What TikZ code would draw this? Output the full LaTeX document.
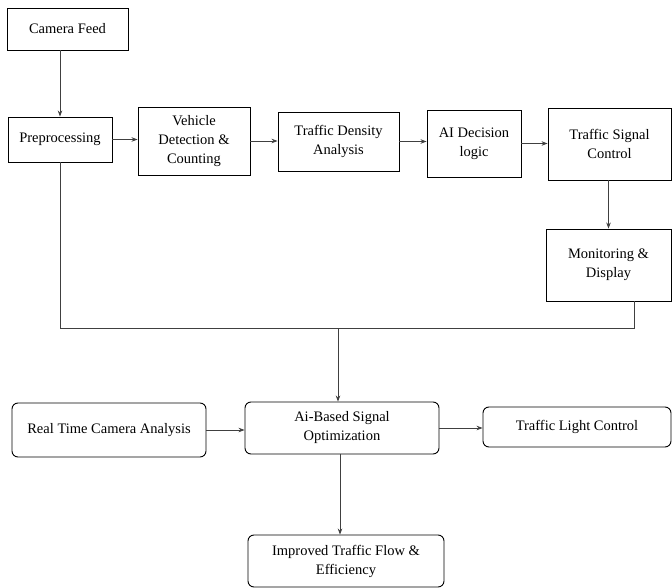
\documentclass[tikz,border=0pt]{standalone}
\usepackage{fontspec}
\setmainfont{Liberation Serif}
\usetikzlibrary{arrows.meta,positioning,calc}
\tikzset{%
  every block/.style={
    rectangle,
    draw,
    line width=0.9pt,
    align=center,
    inner sep=0pt,
    font=\fontsize{14.5}{19}\selectfont
  },
  block round/.style={
    rounded corners=6pt
  },
  flow/.style={
    draw=black!75,
    line width=0.7pt
  },
}

\begin{document}
\begin{tikzpicture}[x=1pt, y=-1pt, >={Stealth[length=6pt,width=4.5pt]}]
        \useasboundingbox (0,0) rectangle (672,588);
        % pipeline
        \node [every block, minimum width=121pt, minimum height=42pt] (camera) at (67.5,29) {Camera Feed};
        \node [every block, minimum width=104pt, minimum height=45pt] (preproc) at (60,139.5) {Preprocessing};
        \node [every block, minimum width=112pt, minimum height=68pt] (vehicle) at (194,141) {Vehicle\\Detection \&\\Counting};
        \node [every block, minimum width=121pt, minimum height=59pt] (density) at (338.5,141.5) {Traffic Density\\Analysis};
        \node [every block, minimum width=94pt, minimum height=67pt] (decision) at (474,143.5) {AI Decision\\logic};
        \node [every block, minimum width=123pt, minimum height=72pt] (signal) at (609.5,144) {Traffic Signal\\Control};
        \node [every block, minimum width=125pt, minimum height=72pt] (monitor) at (608.5,265) {Monitoring \&\\Display};

        % optimisation
        \node [every block, block round, minimum width=194pt, minimum height=54pt] (realtime) at (109,430) {Real Time Camera Analysis};
        \node [every block, block round, minimum width=194pt, minimum height=52pt] (aibased) at (342,428) {Ai-Based Signal\\Optimization};
        \node [every block, block round, minimum width=188pt, minimum height=40pt] (light) at (577,427) {Traffic Light Control};
        \node [every block, block round, minimum width=196pt, minimum height=52pt] (improved) at (346,561) {Improved Traffic Flow \&\\Efficiency};

        \coordinate (merge) at (338,328);
        \coordinate (feedback) at (634,301);

        \draw [flow, ->] (camera.south -| preproc.north) -- (preproc.north);
        \foreach \a/\b in {preproc/vehicle, vehicle/density, density/decision, decision/signal}
            \draw [flow, ->] (\a.east) -- (\a.east -| \b.west);
        \draw [flow, ->] (signal.south -| monitor.north) -- (monitor.north);

        \draw [flow] (preproc.south) |- (merge);
        \draw [flow] (feedback) |- (merge);
        \draw [flow, ->] (merge) -- (merge |- aibased.north);

        \draw [flow, ->] (realtime.east) -- (realtime.east -| aibased.west);
        \draw [flow, ->] (aibased.east) -- (aibased.east -| light.west);
        \draw [flow, ->] (aibased.south -| 340,0) -- (improved.north -| 340,0);
\end{tikzpicture}
\end{document}
